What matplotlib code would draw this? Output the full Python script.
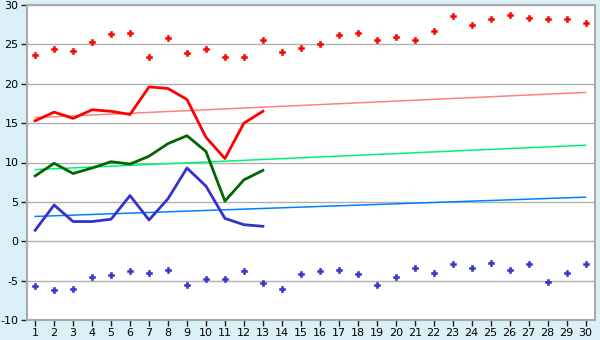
import matplotlib
matplotlib.use("Agg")
import matplotlib.pyplot as plt

days = list(range(1, 31))
record_high = [23.6, 24.4, 24.2, 25.3, 26.3, 26.4, 23.4, 25.8, 23.9, 24.4,
               23.4, 23.4, 25.5, 24.0, 24.6, 25.1, 26.2, 26.5, 25.5, 25.9,
               25.5, 26.7, 28.6, 27.5, 28.2, 28.7, 28.4, 28.2, 28.2, 27.7]
record_low = [-5.7, -6.2, -6.0, -4.6, -4.3, -3.8, -4.0, -3.6, -5.5, -4.8,
              -4.8, -3.8, -5.3, -6.0, -4.2, -3.8, -3.6, -4.1, -5.5, -4.6,
              -3.4, -4.0, -2.9, -3.4, -2.8, -3.6, -2.9, -5.2, -4.0, -2.9]
obs_days = list(range(1, 14))
t_max = [15.3, 16.4, 15.6, 16.7, 16.5, 16.1, 19.6, 19.4, 18.0, 13.2, 10.5, 15.0, 16.5]
t_mean = [8.3, 9.9, 8.6, 9.3, 10.1, 9.8, 10.8, 12.4, 13.4, 11.4, 5.1, 7.8, 9.0]
t_min = [1.4, 4.6, 2.5, 2.5, 2.8, 5.8, 2.7, 5.4, 9.3, 7.0, 2.9, 2.1, 1.9]
trend_days = [1, 30]
trend_max = [15.7, 18.9]
trend_mean = [9.1, 12.2]
trend_min = [3.15, 5.6]
yticks = [-10, -5, 0, 5, 10, 15, 20, 25, 30]

fig = plt.figure(figsize=(6, 3.4), dpi=100, facecolor="#daf0f6")
ax = fig.add_axes([27/600, 1 - 320/340, 568/600, 315/340])
ax.set_facecolor("white")

ax.plot(trend_days, trend_max, color="#ff8080", lw=1.1, zorder=2)
ax.plot(trend_days, trend_mean, color="#00f080", lw=1.1, zorder=2)
ax.plot(trend_days, trend_min, color="#0080ff", lw=1.1, zorder=2)

ax.plot(obs_days, t_max, color="#ff0000", lw=2, zorder=3)
ax.plot(obs_days, t_mean, color="#006600", lw=2, zorder=3)
ax.plot(obs_days, t_min, color="#3333cc", lw=2, zorder=3)

ax.plot(days, record_high, ls="none", marker="P", ms=5, color="#ff0000",
        markeredgewidth=0.4, zorder=4)
ax.plot(days, record_low, ls="none", marker="P", ms=5, color="#3333cc",
        markeredgewidth=0.4, zorder=4)

ax.set_xlim(0.57, 30.5)
ax.set_ylim(-10, 30)
ax.set_yticks(yticks)
ax.set_yticklabels([str(v) for v in yticks])
ax.set_xticks(days)
ax.set_xticklabels([str(d) for d in days])
ax.grid(axis="y", color="#b0b0b0", lw=1)
ax.set_axisbelow(True)
for s in ax.spines.values():
    s.set_color("#aaaaaa")
    s.set_linewidth(1.5)
ax.tick_params(axis="both", labelcolor="#000000", labelsize=8, length=4,
               width=1, pad=2, color="#222222")

fig.savefig("out.png", dpi=100, facecolor=fig.get_facecolor())
